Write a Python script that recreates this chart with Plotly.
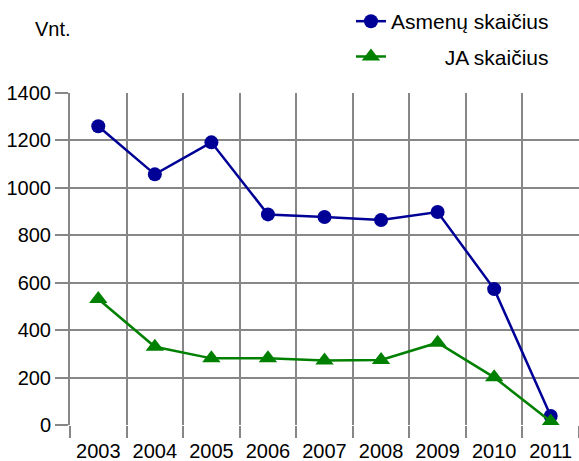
import plotly.graph_objects as go

# data
years = ["2003", "2004", "2005", "2006", "2007", "2008", "2009", "2010", "2011"]
asmenu_skaicius = [1260, 1057, 1192, 888, 877, 864, 898, 573, 38]
ja_skaicius = [531, 330, 281, 281, 272, 274, 347, 201, 15]

series_names = ["Asmenų skaičius", "JA skaičius"]
y_ticks = [0, 200, 400, 600, 800, 1000, 1200, 1400]

FONT = "Liberation Sans, Arial, sans-serif"
GRID = "#878787"

fig = go.Figure()

fig.add_trace(
    go.Scatter(
        x=years,
        y=asmenu_skaicius,
        name=series_names[0],
        mode="lines+markers",
        line=dict(color="#000096", width=2.5),
        marker=dict(symbol="circle", size=14, color="#000096"),
        legendgroup="a",
    )
)

fig.add_trace(
    go.Scatter(
        x=years,
        y=ja_skaicius,
        # pad with spaces so the text sits right-aligned like the original
        name="\u2003\u2003\u00a0\u00a0" + series_names[1],
        mode="lines+markers",
        line=dict(color="#008000", width=2.5),
        marker=dict(symbol="triangle-up", size=16, color="#008000"),
        legendgroup="b",
    )
)

fig.update_layout(
    width=579,
    height=461,
    margin=dict(l=70, r=0, t=93, b=36, autoexpand=False),
    paper_bgcolor="white",
    plot_bgcolor="white",
    font=dict(family=FONT, size=20, color="black"),
    showlegend=True,
    legend=dict(
        x=0.552,
        y=1.277,
        xanchor="left",
        yanchor="top",
        traceorder="grouped",
        tracegroupgap=5,
        font=dict(size=21),
        bgcolor="rgba(0,0,0,0)",
    ),
    xaxis=dict(
        type="category",
        range=[-0.5, len(years) - 0.5],
        tickson="boundaries",
        showgrid=True,
        gridcolor=GRID,
        gridwidth=2,
        ticks="outside",
        ticklen=12,
        tickwidth=2,
        tickcolor=GRID,
        ticklabelstandoff=12,
        showline=False,
        zeroline=False,
        automargin=False,
        tickfont=dict(size=20),
    ),
    yaxis=dict(
        range=[0, 1400],
        tickvals=y_ticks,
        showgrid=True,
        gridcolor=GRID,
        gridwidth=2,
        ticks="outside",
        ticklen=13,
        tickwidth=2,
        tickcolor=GRID,
        showline=True,
        linecolor=GRID,
        linewidth=2,
        zeroline=False,
        automargin=False,
        tickfont=dict(size=20),
    ),
)

fig.add_annotation(
    text="Vnt.",
    xref="paper",
    yref="paper",
    x=-0.073,
    y=1.193,
    xanchor="left",
    yanchor="middle",
    showarrow=False,
    font=dict(size=20),
)

# drop the default page margin so the figure sits at the window corner
fig.write_html(
    "out.html",
    config={"displayModeBar": False},
    post_script="document.body.style.margin='0';",
)
